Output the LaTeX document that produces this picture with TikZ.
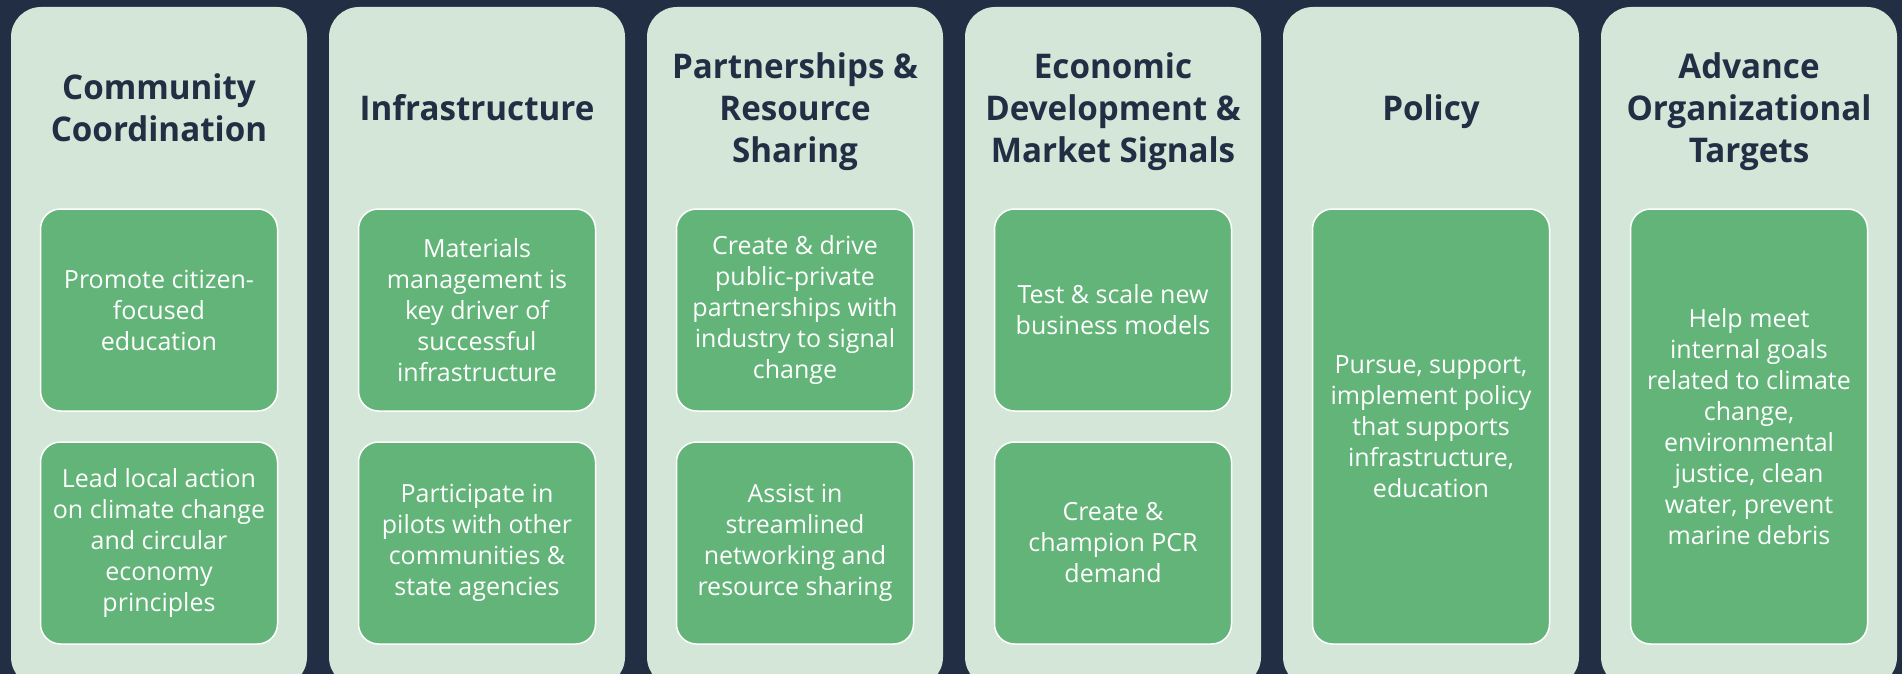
\documentclass[tikz,border=0pt]{standalone}
\usepackage{fontspec}
\setmainfont{Open Sans}
\newfontfamily\headfont[FakeStretch=0.975]{Open Sans}
\definecolor{bgnavy}{HTML}{222E44}
\definecolor{colfill}{HTML}{D4E6D8}
\definecolor{boxfill}{HTML}{62B478}
\definecolor{headtxt}{HTML}{222E44}
\tikzset{
  colbox/.style={fill=colfill, rounded corners=30pt, minimum width=296pt, minimum height=680pt, inner sep=0pt, outer sep=0pt},
  headtext/.style={text=headtxt, align=center, font=\headfont\bfseries\fontsize{34}{42}\selectfont, inner sep=0pt},
  itembox/.style={fill=boxfill, draw=white, line width=1.5pt, rounded corners=20pt, minimum width=237pt, inner sep=0pt, outer sep=0pt, align=center, text=white, font=\fontsize{25}{31}\selectfont},
  halfbox/.style={itembox, minimum height=202pt},
  fullbox/.style={itembox, minimum height=435pt}
}
\begin{document}
\begin{tikzpicture}[x=1pt,y=-1pt]
\fill[bgnavy] (0,0) rectangle (1902,674);
\useasboundingbox (0,0) rectangle (1902,674);
\clip (0,0) rectangle (1902,674);
% columns
\node[colbox] (col1) at (159,347) {};
\node[colbox] (col2) at (477,347) {};
\node[colbox] (col3) at (795,347) {};
\node[colbox] (col4) at (1113,347) {};
\node[colbox] (col5) at (1431,347) {};
\node[colbox] (col6) at (1749,347) {};
% headings
\node[headtext] (h1) at (159,108) {Community\\Coordination};
\node[headtext] (h2) at (477,108) {Infrastructure};
\node[headtext] (h3) at (795,112) {Partnerships \&\\Resource\\Sharing};
\node[headtext] (h4) at (1113,112) {Economic\\Development \&\\Market Signals};
\node[headtext] (h5) at (1431,111.5) {Policy};
\node[headtext] (h6) at (1749,112) {Advance\\Organizational\\Targets};
% boxes
\node[halfbox] (b1a) at (159,310) {Promote citizen-\\focused\\education};
\node[halfbox] (b1b) at (159,543) {Lead local action\\on climate change\\and circular\\economy\\principles};
\node[halfbox] (b2a) at (477,310) {Materials\\management is\\key driver of\\successful\\infrastructure};
\node[halfbox] (b2b) at (477,543) {Participate in\\pilots with other\\communities \&\\state agencies};
\node[halfbox] (b3a) at (795,310) {Create \& drive\\public-private\\partnerships with\\industry to signal\\change};
\node[halfbox] (b3b) at (795,543) {Assist in\\streamlined\\networking and\\resource sharing};
\node[halfbox] (b4a) at (1113,310) {Test \& scale new\\business models};
\node[halfbox] (b4b) at (1113,543) {Create \&\\champion PCR\\demand};
\node[fullbox] (b5) at (1431,426.5) {Pursue, support,\\implement policy\\that supports\\infrastructure,\\education};
\node[fullbox] (b6) at (1749,426.5) {Help meet\\internal goals\\related to climate\\change,\\environmental\\justice, clean\\water, prevent\\marine debris};
\end{tikzpicture}
\end{document}
